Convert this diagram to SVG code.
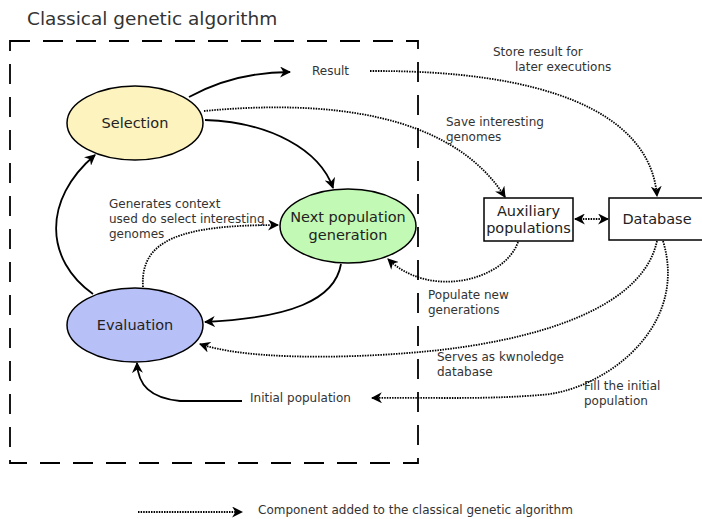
<svg xmlns="http://www.w3.org/2000/svg" width="702" height="519" viewBox="0 0 702 519">
<defs>
<marker id="ah" viewBox="0 0 10 10" refX="9" refY="5" markerWidth="11" markerHeight="11" markerUnits="userSpaceOnUse" orient="auto-start-reverse">
<path d="M0,0 L10,5 L0,10 L3,5 Z" fill="#000"/>
</marker>
</defs>
<style>
text{font-family:"DejaVu Sans",sans-serif;fill:#333;}
.lbl{font-size:12px;}
.node{font-size:14.5px;fill:#222;}
.solid{fill:none;stroke:#000;stroke-width:1.8;}
.dot{fill:none;stroke:#000;stroke-width:1.8;stroke-dasharray:1.5,1.1;}
.ell{stroke:#000;stroke-width:1.5;}
.box{fill:#fff;stroke:#000;stroke-width:1.5;}
</style>
<rect width="702" height="519" fill="#fff"/>
<text x="27" y="25" style="font-size:18.5px">Classical genetic algorithm</text>
<rect x="10" y="41" width="408" height="422" fill="none" stroke="#000" stroke-width="1.8" stroke-dasharray="20,13"/>

<g id="connectors">
<path class="solid" d="M189,97 C220,80 255,72 290,72" marker-end="url(#ah)"/>
<path class="solid" d="M205,120 C270,122 320,150 333,188" marker-end="url(#ah)"/>
<path class="solid" d="M93,294 C45,260 42,200 95,155" marker-end="url(#ah)"/>
<path class="solid" d="M341,264 C335,300 290,318 205,322" marker-end="url(#ah)"/>
<path class="solid" d="M242,401 L180,401 C150,398 138,385 137,363" marker-end="url(#ah)"/>
<path class="dot" d="M370,71 C540,70 650,110 657,196" marker-end="url(#ah)"/>
<path class="dot" d="M204,111 C320,100 450,110 505,197" marker-end="url(#ah)"/>
<path class="dot" d="M575,219 L608,219" marker-start="url(#ah)" marker-end="url(#ah)"/>
<path class="dot" d="M518,242 C505,280 430,300 388,259" marker-end="url(#ah)"/>
<path class="dot" d="M657,241 C640,320 500,345 420,352 C330,360 240,358 200,344" marker-end="url(#ah)"/>
<path class="dot" d="M663,241 C690,330 600,392 540,395 C480,400 420,397 372,398" marker-end="url(#ah)"/>
<path class="dot" d="M143,287 C140,240 180,225 278,225" marker-end="url(#ah)"/>
<path class="dot" d="M138,512 L242,512" marker-end="url(#ah)"/>
</g>

<g id="selection">
<ellipse class="ell" cx="135" cy="123" rx="68" ry="37" fill="#fcf3bf"/>
<text class="node" x="135" y="128" text-anchor="middle">Selection</text>
</g>
<g id="next-population">
<ellipse class="ell" cx="348" cy="226" rx="68" ry="37" fill="#c2f9b4"/>
<text class="node" x="348" y="222" text-anchor="middle">Next population</text>
<text class="node" x="348" y="240" text-anchor="middle">generation</text>
</g>
<g id="evaluation">
<ellipse class="ell" cx="135" cy="325" rx="68" ry="37" fill="#b8c0f8"/>
<text class="node" x="135" y="330" text-anchor="middle">Evaluation</text>
</g>
<g id="auxiliary">
<rect class="box" x="484" y="198" width="89" height="43"/>
<text class="node" x="528.5" y="216" text-anchor="middle">Auxiliary</text>
<text class="node" x="528.5" y="233" text-anchor="middle">populations</text>
</g>
<g id="database">
<rect class="box" x="609" y="198" width="100" height="42"/>
<text class="node" x="657" y="224" text-anchor="middle">Database</text>
</g>
<g id="result"><text class="lbl" x="312" y="75">Result</text></g>
<g id="initial-population"><text class="lbl" x="250" y="402">Initial population</text></g>

<g id="labels">
<text class="lbl" x="493" y="56">Store result for</text>
<text class="lbl" x="515" y="71">later executions</text>
<text class="lbl" x="446" y="126">Save interesting</text>
<text class="lbl" x="446" y="141">genomes</text>
<text class="lbl" x="109" y="208">Generates context</text>
<text class="lbl" x="109" y="223">used do select interesting</text>
<text class="lbl" x="109" y="238">genomes</text>
<text class="lbl" x="428" y="299">Populate new</text>
<text class="lbl" x="428" y="314">generations</text>
<text class="lbl" x="437" y="361">Serves as kwnoledge</text>
<text class="lbl" x="437" y="376">database</text>
<text class="lbl" x="584" y="390">Fill the initial</text>
<text class="lbl" x="584" y="405">population</text>
<text class="lbl" x="258" y="514">Component added to the classical genetic algorithm</text>
</g>
</svg>
